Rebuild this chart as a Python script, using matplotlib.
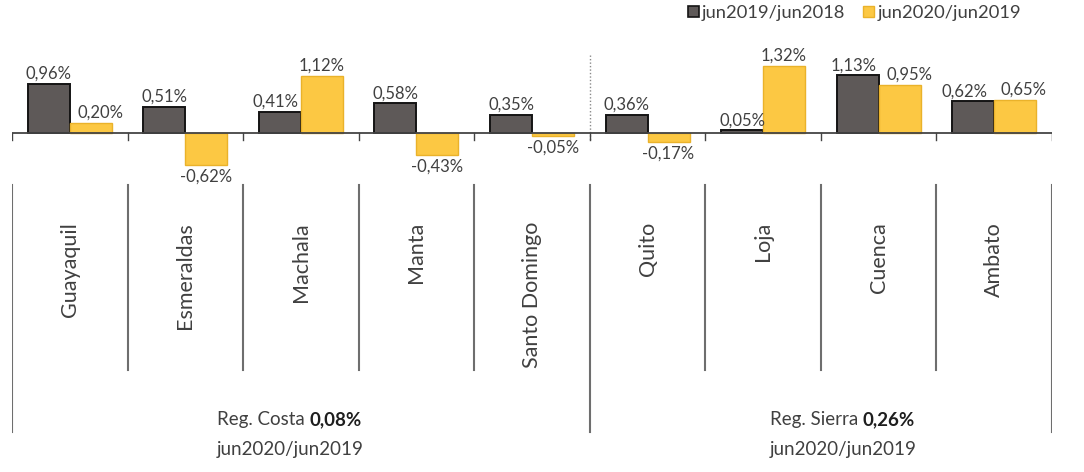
import matplotlib
matplotlib.use("Agg")
import matplotlib.pyplot as plt
from matplotlib.patches import Patch
import numpy as np

plt.rcParams['font.family'] = ['Lato', 'DejaVu Sans']

cities = ["Guayaquil", "Esmeraldas", "Machala", "Manta", "Santo Domingo",
          "Quito", "Loja", "Cuenca", "Ambato"]
s_2019 = [0.96, 0.51, 0.41, 0.58, 0.35, 0.36, 0.05, 1.13, 0.62]
s_2020 = [0.20, -0.62, 1.12, -0.43, -0.05, -0.17, 1.32, 0.95, 0.65]
series_names = ["jun2019/jun2018", "jun2020/jun2019"]
regions = ["Reg. Costa", "Reg. Sierra"]
region_values = ["0,08%", "0,26%"]
region_period = "jun2020/jun2019"

# layout (pixels)
W, H = 1084, 472
dpi = 100
px_per_unit = 51.0
base_px = 133.0
left_px, right_px = 12.0, 1052.0

c_dark = "#5e5958"
c_dark_edge = "#141414"
c_yel = "#fcc843"
c_yel_edge = "#eab22a"
c_sep = "#6e6e6e"
c_text = "#404040"

fig = plt.figure(figsize=(W / dpi, H / dpi), dpi=dpi)
ax = fig.add_axes([left_px / W, 0, (right_px - left_px) / W, 1])
ax.set_xlim(0, len(cities))
ax.set_ylim(-(H - base_px) / px_per_unit, base_px / px_per_unit)
ax.axis("off")

def py(p):
    # pixel row -> data y
    return (base_px - p) / px_per_unit

x = np.arange(len(cities)) + 0.5
bw = 0.363
ax.bar(x - bw / 2, s_2019, bw, color=c_dark, edgecolor=c_dark_edge, linewidth=1.4, zorder=3)
ax.bar(x + bw / 2, s_2020, bw, color=c_yel, edgecolor=c_yel_edge, linewidth=1.0, zorder=3)

def fmt(v):
    return f"{v:.2f}%".replace(".", ",")

dx1 = [0, 0, -3, 0, 0, 0, 0, -3, -6]
dx2 = [7, 0, 0, 0, 0, 0, 0, 7, 6]
for i in range(len(cities)):
    for v, xx, dx in ((s_2019[i], x[i] - bw / 2, dx1[i]), (s_2020[i], x[i] + bw / 2, dx2[i])):
        if v >= 0:
            ax.annotate(fmt(v), (xx, v), xytext=(dx, 1.5), textcoords="offset points",
                        ha="center", va="bottom", fontsize=12, color=c_text, zorder=5)
        else:
            ax.annotate(fmt(v), (xx, v), xytext=(dx, -3), textcoords="offset points",
                        ha="center", va="top", fontsize=12, color=c_text, zorder=5)

# baseline and ticks
ax.plot([0, len(cities)], [0, 0], color="#444444", lw=1.3, zorder=4)
for b in range(len(cities) + 1):
    ax.plot([b, b], [0, py(140)], color="#444444", lw=1.0, zorder=4)

# dotted separator between regions
ax.plot([5, 5], [py(55), py(140)], color="#8a8a8a", lw=1.0, ls=(0, (1, 1.5)), zorder=2)

# category separators
for b in range(len(cities) + 1):
    bottom = 432 if b in (0, 5, len(cities)) else 370
    ax.plot([b, b], [py(185), py(bottom)], color=c_sep, lw=1.5, zorder=2)

# category labels
for i, name in enumerate(cities):
    ax.text(x[i], py(222), name, rotation=90, ha="center", va="top",
            fontsize=15.5, color=c_text)

# region summaries
for rx, rname, rval in ((217, regions[0], region_values[0]), (770, regions[1], region_values[1])):
    xd = (rx - left_px) / (right_px - left_px) * len(cities)
    t = ax.text(xd, py(420), rname + " ", ha="left", va="center", fontsize=13.5, color=c_text)
    ax.annotate(rval, xy=(1, 0), xycoords=t, ha="left", va="bottom",
                fontsize=13.5, fontweight="bold", color="#1e1e1e")
    ax.text(xd, py(450), region_period, ha="left", va="center", fontsize=13.5, color=c_text)

handles = [Patch(facecolor=c_dark, edgecolor=c_dark_edge, linewidth=1.2),
           Patch(facecolor=c_yel, edgecolor=c_yel_edge, linewidth=1.0)]
fig.legend(handles, series_names, loc="upper left", bbox_to_anchor=(688 / W, 1 - 5 / H),
           ncol=2, frameon=False, fontsize=13.2, handlelength=0.6, handleheight=0.6,
           handletextpad=0.15, columnspacing=1.0, labelcolor=c_text, borderaxespad=0,
           borderpad=0)

fig.savefig("out.png", dpi=dpi, facecolor="white")
